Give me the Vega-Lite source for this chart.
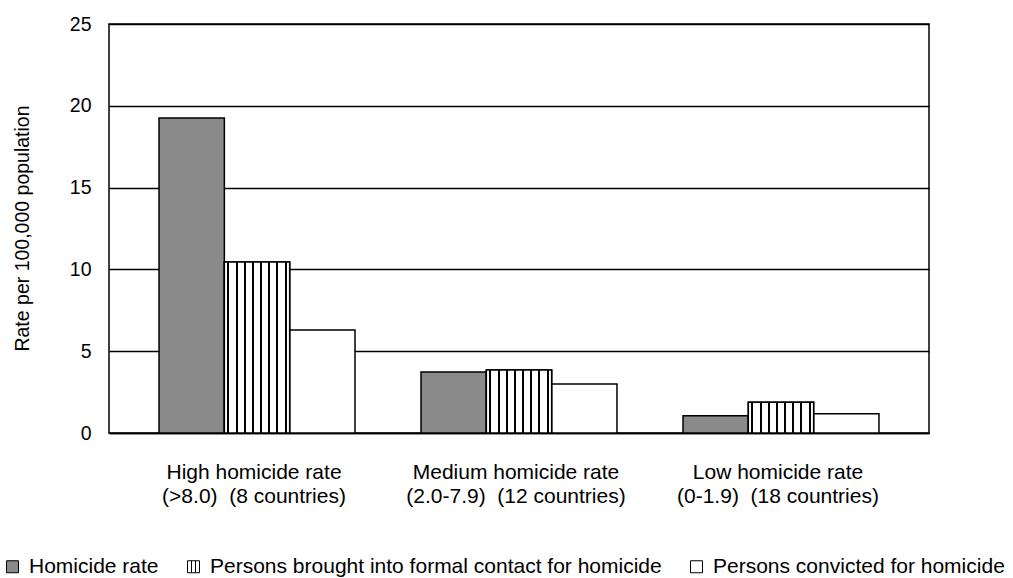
{
  "$schema": "https://vega.github.io/schema/vega-lite/v6.json",
  "autosize": "none",
  "padding": {"left": 109, "top": 24, "right": 84, "bottom": 145},
  "width": 820,
  "height": 409,
  "background": "white",
  "config": {
    "font": "Liberation Sans",
    "view": {"stroke": "#000000", "strokeWidth": 1.5},
    "axis": {"labelColor": "#000000", "titleColor": "#000000", "labelFont": "Liberation Sans", "titleFont": "Liberation Sans"},
    "legend": {"labelColor": "#000000", "labelFont": "Liberation Sans"}
  },
  "data": {
    "values": [
      {"group": "High homicide rate\n(>8.0) \u00a0(8 countries)", "series": "Homicide rate", "rate": 19.25},
      {"group": "High homicide rate\n(>8.0) \u00a0(8 countries)", "series": "Persons brought into formal contact for homicide", "rate": 10.45},
      {"group": "High homicide rate\n(>8.0) \u00a0(8 countries)", "series": "Persons convicted for homicide", "rate": 6.3},
      {"group": "Medium homicide rate\n(2.0-7.9) \u00a0(12 countries)", "series": "Homicide rate", "rate": 3.73},
      {"group": "Medium homicide rate\n(2.0-7.9) \u00a0(12 countries)", "series": "Persons brought into formal contact for homicide", "rate": 3.85},
      {"group": "Medium homicide rate\n(2.0-7.9) \u00a0(12 countries)", "series": "Persons convicted for homicide", "rate": 3.0},
      {"group": "Low homicide rate\n(0-1.9) \u00a0(18 countries)", "series": "Homicide rate", "rate": 1.06},
      {"group": "Low homicide rate\n(0-1.9) \u00a0(18 countries)", "series": "Persons brought into formal contact for homicide", "rate": 1.88},
      {"group": "Low homicide rate\n(0-1.9) \u00a0(18 countries)", "series": "Persons convicted for homicide", "rate": 1.18}
    ]
  },
  "encoding": {
    "x": {
      "field": "group", "type": "nominal", "sort": null,
      "scale": {"paddingInner": 0.252, "paddingOuter": 0.191},
      "axis": {
        "title": null, "labelAngle": 0, "ticks": false, "domain": true,
        "domainColor": "#000000", "domainWidth": 1.5,
        "labelFontSize": 21, "labelLineHeight": 24, "labelPadding": 28,
        "labelBaseline": "top", "labelLimit": 400, "labelOffset": -3,
        "labelExpr": "split(datum.label, '\\n')"
      }
    },
    "xOffset": {
      "field": "series", "type": "nominal",
      "scale": {"domain": ["Homicide rate", "Persons brought into formal contact for homicide", "Persons convicted for homicide"], "paddingInner": 0, "paddingOuter": 0}
    },
    "y": {
      "field": "rate", "type": "quantitative",
      "scale": {"domain": [0, 25], "nice": false},
      "axis": {
        "title": "Rate per 100,000 population",
        "values": [0, 5, 10, 15, 20, 25],
        "grid": true, "gridColor": "#000000", "gridWidth": 1.5, "gridOpacity": 1,
        "ticks": false, "domain": false,
        "labelFontSize": 19.5, "labelPadding": 18,
        "titleFontSize": 19.5, "titleFontWeight": "normal",
        "titleAngle": -90, "titleX": -87, "titleY": 204,
        "titleAlign": "center", "titleBaseline": "middle"
      }
    }
  },
  "layer": [
    {
      "mark": {"type": "bar", "stroke": "#000000", "strokeWidth": 1.5},
      "encoding": {
        "fill": {
          "field": "series", "type": "nominal",
          "scale": {"domain": ["Homicide rate", "Persons brought into formal contact for homicide", "Persons convicted for homicide"], "range": ["#8a8a8a", "#ffffff", "#ffffff"]},
          "legend": {
            "title": null, "orient": "none", "direction": "horizontal",
            "legendX": -107, "legendY": 532, "padding": 0,
            "symbolType": "square", "symbolSize": 144,
            "symbolStrokeColor": "#000000", "symbolStrokeWidth": 1,
            "labelFontSize": 21, "labelOffset": 6, "columnPadding": 24,
            "labelLimit": 800,
            "encode": {
              "symbols": {
                "update": {
                  "shape": [
                    {"test": "datum.index === 1", "value": "M-1,-1H1V1H-1Z M-0.33,-1V1 M0.33,-1V1"},
                    {"value": "square"}
                  ],
                  "stroke": {"value": "#000000"},
                  "strokeWidth": {"value": 1},
                  "size": {"value": 144},
                  "opacity": {"value": 1}
                }
              }
            }
          }
        }
      }
    },
    {
      "transform": [{"filter": "datum.series === 'Persons brought into formal contact for homicide'"}],
      "mark": {
        "type": "bar", "stroke": "#000000", "strokeWidth": 1.5,
        "fill": {"gradient": "linear", "x1": 0, "y1": 0, "x2": 1, "y2": 0,
          "stops": [
            {"offset": 0, "color": "#ffffff"},
            {"offset": 0.0475, "color": "#ffffff"}, {"offset": 0.0475, "color": "#000000"},
            {"offset": 0.0775, "color": "#000000"}, {"offset": 0.0775, "color": "#ffffff"},
            {"offset": 0.1725, "color": "#ffffff"}, {"offset": 0.1725, "color": "#000000"},
            {"offset": 0.2025, "color": "#000000"}, {"offset": 0.2025, "color": "#ffffff"},
            {"offset": 0.2975, "color": "#ffffff"}, {"offset": 0.2975, "color": "#000000"},
            {"offset": 0.3275, "color": "#000000"}, {"offset": 0.3275, "color": "#ffffff"},
            {"offset": 0.4225, "color": "#ffffff"}, {"offset": 0.4225, "color": "#000000"},
            {"offset": 0.4525, "color": "#000000"}, {"offset": 0.4525, "color": "#ffffff"},
            {"offset": 0.5475, "color": "#ffffff"}, {"offset": 0.5475, "color": "#000000"},
            {"offset": 0.5775, "color": "#000000"}, {"offset": 0.5775, "color": "#ffffff"},
            {"offset": 0.6725, "color": "#ffffff"}, {"offset": 0.6725, "color": "#000000"},
            {"offset": 0.7025, "color": "#000000"}, {"offset": 0.7025, "color": "#ffffff"},
            {"offset": 0.7975, "color": "#ffffff"}, {"offset": 0.7975, "color": "#000000"},
            {"offset": 0.8275, "color": "#000000"}, {"offset": 0.8275, "color": "#ffffff"},
            {"offset": 0.9225, "color": "#ffffff"}, {"offset": 0.9225, "color": "#000000"},
            {"offset": 0.9525, "color": "#000000"}, {"offset": 0.9525, "color": "#ffffff"},
            {"offset": 1, "color": "#ffffff"}
          ]}
      },
      "encoding": {}
    }
  ]
}
